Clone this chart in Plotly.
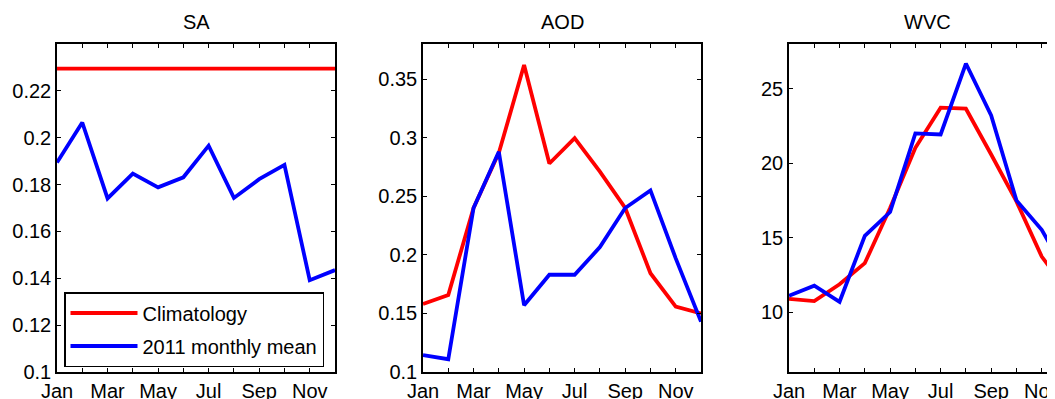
import plotly.graph_objects as go

months = list(range(1, 13))
month_labels = ["Jan", "", "Mar", "", "May", "", "Jul", "", "Sep", "", "Nov", ""]

sa_clim = [0.2295] * 12
sa_2011 = [0.1894, 0.2065, 0.1741, 0.1847, 0.1788, 0.1831, 0.1966, 0.1743, 0.1823, 0.1884, 0.1392, 0.1435]

aod_clim = [0.158, 0.1658, 0.240, 0.287, 0.362, 0.278, 0.2997, 0.271, 0.240, 0.1843, 0.1558, 0.150]
aod_2011 = [0.1145, 0.1109, 0.240, 0.288, 0.157, 0.183, 0.183, 0.2066, 0.240, 0.255, 0.197, 0.143]

wvc_clim = [10.9, 10.76, 11.88, 13.3, 17.0, 21.04, 23.73, 23.66, 20.59, 17.44, 13.74, 11.5]
wvc_2011 = [11.12, 11.79, 10.71, 15.13, 16.73, 22.0, 21.93, 26.69, 23.21, 17.51, 15.54, 12.55]

titles = ["SA", "AOD", "WVC"]
series_names = ["Climatology", "2011 monthly mean"]

# The page has an 8px body margin, so the figure's paper starts at (8, 8) on screen.
OFF = 8
W, H = 1055 - OFF, 399 - OFF
FONT = "Liberation Sans, Arial, Helvetica, sans-serif"
FS = 20
RED = "rgb(255,0,0)"
BLUE = "rgb(0,0,255)"

# panel geometry in screen pixels
px_left = [57, 423, 789]
px_right = [335, 701, 1066]
plot_top, plot_bottom = 44, 372


def sx(v):
    return (v - OFF) / W


def sy(v):
    return (H - (v - OFF)) / H


ydom = [sy(plot_bottom), sy(plot_top)]

fig = go.Figure()

data = [(sa_clim, sa_2011), (aod_clim, aod_2011), (wvc_clim, wvc_2011)]
for i, (clim, obs) in enumerate(data):
    ax = "" if i == 0 else str(i + 1)
    fig.add_trace(go.Scatter(x=months, y=clim, mode="lines", name=series_names[0],
                             line=dict(color=RED, width=3.8), xaxis="x" + ax, yaxis="y" + ax,
                             legendgroup="clim", showlegend=(i == 0)))
    fig.add_trace(go.Scatter(x=months, y=obs, mode="lines", name=series_names[1],
                             line=dict(color=BLUE, width=3.8), xaxis="x" + ax, yaxis="y" + ax,
                             legendgroup="obs", showlegend=(i == 0)))

yranges = [[0.1, 0.24], [0.1, 0.38], [6, 28]]
yticks = [
    ([0.1, 0.12, 0.14, 0.16, 0.18, 0.2, 0.22], ["0.1", "0.12", "0.14", "0.16", "0.18", "0.2", "0.22"]),
    ([0.1, 0.15, 0.2, 0.25, 0.3, 0.35], ["0.1", "0.15", "0.2", "0.25", "0.3", "0.35"]),
    ([10, 15, 20, 25], ["10", "15", "20", "25"]),
]
spacing = (px_right[0] - px_left[0]) / 11.0
xranges = [[1, 12], [1, 12], [1, 1 + (1055 - px_left[2]) / spacing]]

common = dict(showline=True, linecolor="black", linewidth=1.5, ticks="inside", ticklen=4,
              tickwidth=1, tickcolor="black", showgrid=False, zeroline=False,
              ticklabeloverflow="allow",
              tickfont=dict(family=FONT, size=FS, color="black"), automargin=False)

layout = {}
for i in range(3):
    ax = "" if i == 0 else str(i + 1)
    right = min(px_right[i], 1055)
    dom = [sx(px_left[i]), min(1.0, sx(right))]
    layout["xaxis" + ax] = dict(domain=dom, range=xranges[i], tickvals=months, ticktext=month_labels,
                               anchor="y" + ax, mirror="ticks", **common)
    layout["yaxis" + ax] = dict(domain=ydom, range=yranges[i], tickvals=yticks[i][0],
                               ticktext=yticks[i][1], anchor="x" + ax,
                               mirror=("ticks" if i < 2 else False), **common)

annotations = []
for i in range(3):
    cx = sx((px_left[i] + px_right[i]) / 2)
    annotations.append(dict(text=titles[i], x=cx, y=sy(22), xref="paper", yref="paper",
                            xanchor="center", yanchor="middle", showarrow=False,
                            font=dict(family=FONT, size=FS, color="black")))

fig.update_layout(
    width=W, height=H,
    margin=dict(l=0, r=0, t=0, b=0),
    paper_bgcolor="white", plot_bgcolor="white",
    annotations=annotations,
    legend=dict(x=sx(64), y=sy(292), xanchor="left", yanchor="top",
                bgcolor="white", bordercolor="black", borderwidth=1.5,
                font=dict(family=FONT, size=FS, color="black"),
                itemwidth=67, tracegroupgap=4),
    **layout,
)

fig.write_html("out.html")
